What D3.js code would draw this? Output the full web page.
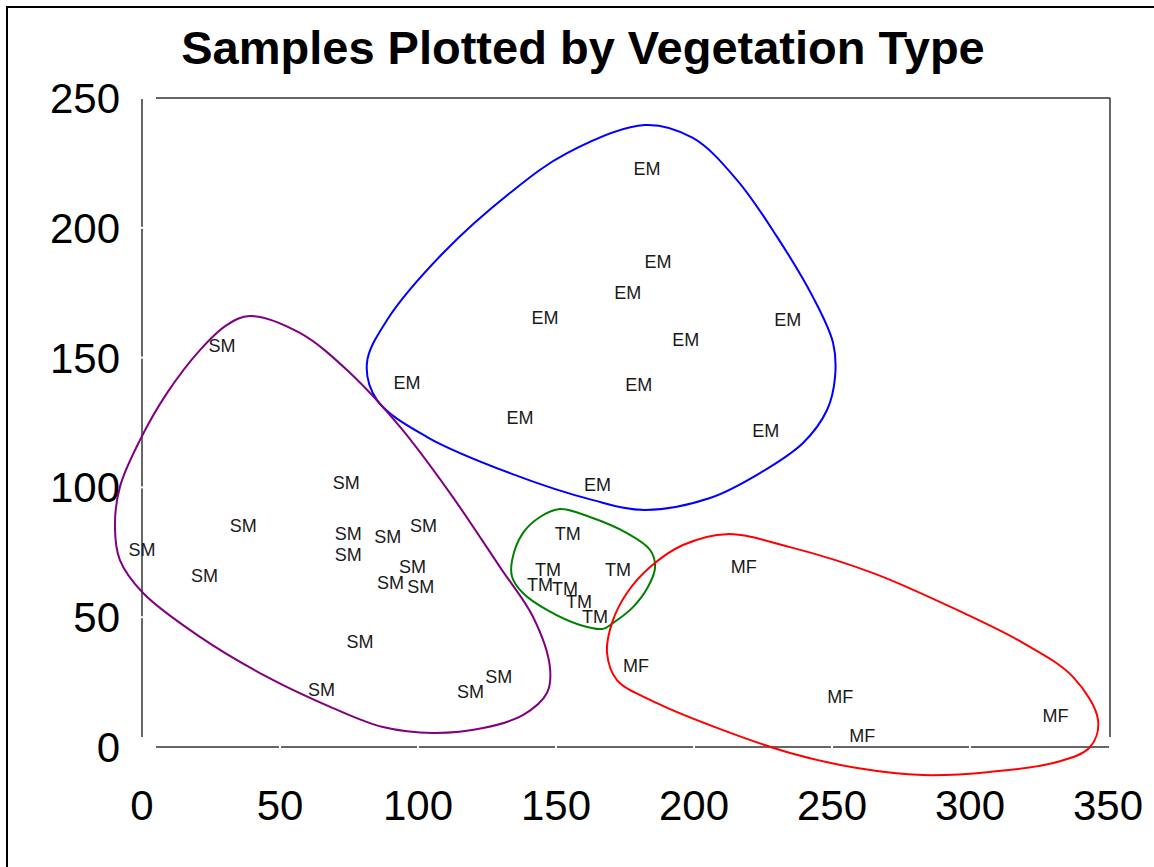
<!DOCTYPE html>
<html>
<head>
<meta charset="utf-8">
<script src="https://cdn.jsdelivr.net/npm/d3@7"></script>
<style>
  body { margin: 0; background: #fff; }
  svg { display: block; }
</style>
</head>
<body>
<svg id="chart"></svg>
<script>
// sample positions, grouped by vegetation type
var emPoints = [
  [183, 223], [187, 187], [176, 175], [146, 165.5], [197, 157], [234, 164.5],
  [96, 140.5], [180, 139.5], [137, 127], [226, 122], [165, 101]
];
var smPoints = [
  [29, 154.5], [74, 102], [36.7, 85.5], [0, 76], [74.7, 82.3], [74.7, 74.3],
  [89, 81], [102, 85.5], [22.6, 66], [98, 69.5], [90, 63.3], [101, 62],
  [79, 40.6], [65, 22.3], [119, 21.3], [129.3, 27.1]
];
var tmPoints = [
  [154.3, 82.4], [147.1, 68.2], [172.5, 68.2], [144.2, 62.4],
  [153.3, 61.2], [158.3, 56.2], [164.1, 50.1]
];
var mfPoints = [
  [218, 69.5], [179, 31.3], [253, 19.4], [261, 4.6], [331, 12.3]
];

// hand drawn group outlines (data units)
var emOutline = [
  [182.2, 239.6], [199.6, 234.6], [215.6, 218.4], [230.1, 196.5], [243.1, 173.3],
  [250.4, 155.6], [251.1, 142.5], [248.2, 129.8], [239.5, 117.1], [223.9, 105.5],
  [205.8, 95.9], [182.2, 91.3], [163.4, 95.1], [133.3, 105.5], [103.3, 119.4],
  [85.1, 133.7], [81.5, 147.9], [88.8, 164.5], [109.1, 190.3], [133.3, 213.4],
  [154.0, 228.8]
];
var smOutline = [
  [39.1, 166.0], [57.2, 159.5], [75.4, 144.1], [93.5, 123.3], [111.6, 97.8],
  [129.7, 69.3], [141.7, 50.1], [147.8, 30.8], [146.7, 20.8], [138.0, 12.3],
  [123.6, 7.3], [105.4, 5.4], [87.3, 7.7], [69.2, 15.0], [45.3, 27.0],
  [21.0, 42.4], [0.4, 59.3], [-8.0, 72.0], [-9.8, 84.7], [-8.0, 100.2],
  [-0.7, 118.3], [9.1, 136.4], [21.0, 152.9], [30.8, 162.6]
];
var tmOutline = [
  [151.4, 91.7], [162.3, 88.6], [175.7, 82.4], [184.1, 75.9], [185.9, 69.3],
  [183.3, 61.6], [177.9, 53.9], [170.7, 47.8], [167.0, 45.5], [158.7, 47.0],
  [146.7, 52.8], [138.0, 59.3], [134.1, 65.5], [134.1, 72.0], [138.0, 82.4],
  [144.2, 88.6]
];
var mfOutline = [
  [212.0, 82.0], [234.8, 77.0], [264.9, 67.0], [295.3, 52.8], [319.2, 40.1],
  [337.3, 27.0], [346.4, 10.4], [343.5, 0.0], [331.5, -5.8], [307.2, -9.6],
  [283.0, -10.8], [259.1, -8.1], [234.8, -2.3], [210.5, 6.5], [186.6, 16.9],
  [172.1, 25.8], [168.5, 36.2], [170.3, 47.8], [175.7, 59.3], [184.1, 69.3],
  [196.0, 77.8]
];

var xTicks = [0, 50, 100, 150, 200, 250, 300, 350];
var yTicks = [0, 50, 100, 150, 200, 250];

var groups = [
  {label: "EM", points: emPoints, outline: emOutline, color: "#0000ff"},
  {label: "SM", points: smPoints, outline: smOutline, color: "#800080"},
  {label: "TM", points: tmPoints, outline: tmOutline, color: "#008000"},
  {label: "MF", points: mfPoints, outline: mfOutline, color: "#ff0000"}
];

width = 1154;
height = 867;

const svg = d3.select("#chart")
    .attr("width", width)
    .attr("height", height)
    .attr("font-family", "'Liberation Sans', Arial, sans-serif");

svg.append("rect")
    .attr("width", width).attr("height", height)
    .attr("fill", "#fff");

// outer border (runs off the right and bottom edge)
svg.append("rect")
    .attr("x", 7).attr("y", 7)
    .attr("width", 1300).attr("height", 1000)
    .attr("fill", "none")
    .attr("stroke", "#000")
    .attr("stroke-width", 2);

var x = d3.scaleLinear().domain([0, 350]).range([142, 1108]);
var y = d3.scaleLinear().domain([0, 250]).range([747, 98]);

// title
svg.append("text")
    .attr("x", 583).attr("y", 64)
    .attr("text-anchor", "middle")
    .attr("font-size", 47)
    .attr("font-weight", "bold")
    .attr("fill", "#000")
    .text("Samples Plotted by Vegetation Type");

// plot frame, with the little gaps at the corners
var frame = svg.append("g")
    .attr("stroke", "#333")
    .attr("stroke-width", 1.5);
frame.append("line")
    .attr("x1", x(0)).attr("x2", x(0))
    .attr("y1", y(250) + 1).attr("y2", y(0) - 10);
frame.append("line")
    .attr("x1", x(0) + 14).attr("x2", x(350) + 2)
    .attr("y1", y(250)).attr("y2", y(250));
frame.append("line")
    .attr("x1", x(350) + 2).attr("x2", x(350) + 2)
    .attr("y1", y(250)).attr("y2", y(0) - 10);
frame.append("line")
    .attr("x1", x(0) + 14).attr("x2", x(350) + 1)
    .attr("y1", y(0)).attr("y2", y(0));

// white tick notches cut into the axis lines
svg.append("g").selectAll("rect")
  .data(xTicks.slice(1, -1))
  .join("rect")
    .attr("x", d => x(d) - 1).attr("y", y(0) - 3)
    .attr("width", 2).attr("height", 6)
    .attr("fill", "#fff");
svg.append("g").selectAll("rect")
  .data(yTicks.slice(1, -1))
  .join("rect")
    .attr("x", x(0) - 3).attr("y", d => y(d) - 1)
    .attr("width", 6).attr("height", 2)
    .attr("fill", "#fff");

// tick labels
svg.append("g")
    .attr("font-size", 42)
    .attr("text-anchor", "middle")
  .selectAll("text")
  .data(xTicks)
  .join("text")
    .attr("x", d => x(d))
    .attr("y", 820)
    .text(d => d);

svg.append("g")
    .attr("font-size", 42)
    .attr("text-anchor", "end")
  .selectAll("text")
  .data(yTicks)
  .join("text")
    .attr("x", 120)
    .attr("y", d => y(d) + 15)
    .text(d => d);

// group outlines
var outlineFunc = d3.line()
    .curve(d3.curveCatmullRomClosed.alpha(0.5))
    .x(d => x(d[0]))
    .y(d => y(d[1]));

svg.append("g").selectAll("path")
  .data(groups)
  .join("path")
    .attr("d", d => outlineFunc(d.outline))
    .attr("fill", "none")
    .attr("stroke", d => d.color)
    .attr("stroke-width", 2);

// sample labels
var labels = svg.append("g")
    .attr("font-size", 18)
    .attr("fill", "#1a1a1a")
    .attr("text-anchor", "middle");

groups.forEach(function(g) {
  labels.append("g").selectAll("text")
    .data(g.points)
    .join("text")
      .attr("x", d => x(d[0]))
      .attr("y", d => y(d[1]))
      .attr("dy", "0.36em")
      .text(g.label);
});
</script>
</body>
</html>
